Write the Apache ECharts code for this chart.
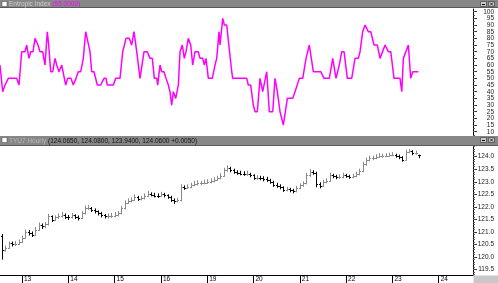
<!DOCTYPE html>
<html>
<head>
<meta charset="utf-8">
<script src="https://cdn.jsdelivr.net/npm/echarts@6/dist/echarts.min.js"></script>
<style>
html,body{margin:0;padding:0;background:#fff;}
#c{width:498px;height:283px;}
</style>
</head>
<body>
<div id="c"></div>
<script>
// ---- data ----
const dayLabels = ['13','14','15','16','19','20','21','22','23','24'];
const priceBarsPerDay = 14;          // price bars per session
const indicatorStepsPerDay = 9;      // time unit of indicatorPoints (1/9 session)
const firstBarIndex = -6;
const indicatorTicks = [10,15,20,25,30,35,40,45,50,55,60,65,70,75,80,85,90,95,100];
const priceTicks = [119.5,120.0,120.5,121.0,121.5,122.0,122.5,123.0,123.5,124.0];
const indicatorTitle = 'Entropic Index';
const indicatorLast = '(55.0000)';
const priceTitle = 'TYU7 Hourly';
const priceLast = '(124.0650, 124.0800, 123.9400, 124.0600 +0.0050)';

// indicator: [time in 1/9 session, value]
const indicatorPoints = [
[-4.28,60],[-3.75,40],[-3.30,45],[-2.66,50],[-1.03,50],[-0.58,45],[-0.06,70],[0.58,70],[0.91,75],[1.36,65],
[1.69,70],[2.14,70],[2.53,80],[3.11,75],[3.50,70],[4.02,70],[4.47,60],[4.92,85],[5.19,75],[5.58,55],
[5.97,55],[6.42,65],[6.75,60],[7.19,55],[7.72,60],[7.97,55],[8.50,45],[8.88,50],[9.53,50],[9.97,45],
[10.50,50],[10.94,55],[11.41,55],[11.92,65],[12.38,85],[12.69,85],[13.22,70],[13.55,55],[14.00,55],[14.64,45],
[15.30,45],[15.94,50],[16.33,50],[16.58,45],[17.75,45],[18.22,50],[19.05,50],[19.58,70],[20.22,80],[20.86,80],
[21.32,75],[21.77,85],[22.30,70],[22.94,50],[23.72,70],[24.36,70],[24.88,65],[25.33,65],[25.72,50],[26.19,50],
[26.38,45],[26.83,60],[27.16,55],[27.60,55],[28.00,50],[28.44,45],[28.77,40],[29.10,30],[29.41,40],[29.88,35],
[30.39,45],[30.72,70],[31.16,75],[31.55,65],[31.88,70],[32.33,80],[32.80,75],[33.18,60],[33.63,70],[34.27,70],
[34.60,65],[35.13,65],[35.44,60],[35.77,65],[36.22,50],[36.99,50],[37.52,60],[37.85,65],[38.30,85],[38.49,75],
[39.02,95],[39.33,90],[39.79,90],[40.77,55],[40.96,50],[43.68,50],[43.99,45],[44.46,45],[44.96,30],[45.30,25],
[45.74,25],[46.27,50],[46.79,40],[47.57,55],[48.08,25],[48.74,25],[49.18,50],[49.63,40],[50.16,25],[50.80,15],
[51.58,35],[52.62,35],[53.07,40],[53.91,50],[54.57,50],[55.21,65],[55.85,75],[56.12,75],[56.63,55],[58.07,55],
[58.71,50],[59.74,50],[60.40,65],[60.65,65],[61.04,50],[61.68,60],[62.15,70],[62.60,70],[63.24,50],[64.09,50],
[64.74,65],[65.38,65],[65.71,70],[66.23,85],[66.68,90],[67.01,90],[67.32,85],[67.79,85],[68.43,75],[69.07,75],
[69.60,65],[70.57,75],[70.90,75],[71.21,70],[71.68,70],[72.32,50],[73.48,50],[73.82,40],[74.13,65],[75.10,75],
[75.56,50],[75.95,55],[77.04,55]
];

// price bars: [open, high, low, close], first bar at index -6
const priceBars = [
[120.85,120.92,119.90,120.30],[120.30,120.46,120.22,120.38],[120.38,120.62,120.34,120.55],[120.55,120.62,120.42,120.51],
[120.51,120.64,120.44,120.54],[120.54,120.70,120.48,120.60],[120.60,120.86,120.56,120.78],[120.78,121.10,120.74,121.01],
[121.01,121.08,120.86,120.96],[120.96,121.02,120.80,120.90],[120.90,121.20,120.86,121.10],[121.10,121.38,121.04,121.29],
[121.29,121.34,121.12,121.22],[121.22,121.40,121.16,121.30],[121.30,121.72,121.26,121.62],[121.62,121.66,121.40,121.49],
[121.49,121.66,121.44,121.58],[121.58,121.74,121.52,121.64],[121.64,121.80,121.58,121.69],[121.69,121.74,121.52,121.60],
[121.60,121.68,121.48,121.58],[121.58,121.76,121.54,121.66],[121.66,121.70,121.52,121.60],[121.60,121.66,121.46,121.56],
[121.56,121.84,121.52,121.75],[121.75,122.05,121.70,121.95],[121.95,122.08,121.88,121.96],[121.96,122.00,121.80,121.88],
[121.88,121.94,121.74,121.82],[121.82,121.86,121.66,121.74],[121.74,121.80,121.58,121.67],[121.67,121.72,121.54,121.62],
[121.62,121.74,121.54,121.62],[121.62,121.76,121.56,121.64],[121.64,121.80,121.58,121.68],[121.68,121.84,121.62,121.74],
[121.74,122.04,121.70,121.95],[121.95,122.26,121.90,122.17],[122.17,122.34,122.12,122.24],[122.24,122.38,122.18,122.28],
[122.28,122.50,122.24,122.40],[122.40,122.44,122.24,122.31],[122.31,122.44,122.26,122.34],[122.34,122.54,122.30,122.45],
[122.45,122.64,122.40,122.53],[122.53,122.58,122.42,122.49],[122.49,122.56,122.38,122.45],[122.45,122.54,122.36,122.44],
[122.44,122.60,122.40,122.50],[122.50,122.56,122.38,122.46],[122.46,122.50,122.32,122.40],[122.40,122.44,122.20,122.28],
[122.28,122.34,122.12,122.23],[122.23,122.36,122.18,122.27],[122.27,122.90,122.22,122.80],[122.80,122.86,122.68,122.77],
[122.77,122.90,122.72,122.80],[122.80,122.96,122.74,122.86],[122.86,123.04,122.82,122.93],[122.93,123.06,122.86,122.95],
[122.95,123.04,122.86,122.95],[122.95,123.08,122.90,122.97],[122.97,123.10,122.92,123.00],[123.00,123.14,122.94,123.03],
[123.03,123.18,122.98,123.09],[123.09,123.24,123.04,123.15],[123.15,123.34,123.10,123.25],[123.25,123.56,123.20,123.46],
[123.46,123.66,123.40,123.55],[123.55,123.60,123.38,123.46],[123.46,123.52,123.32,123.40],[123.40,123.46,123.28,123.35],
[123.35,123.44,123.26,123.33],[123.33,123.42,123.24,123.32],[123.32,123.44,123.24,123.32],[123.32,123.36,123.18,123.26],
[123.26,123.30,123.08,123.15],[123.15,123.26,123.08,123.15],[123.15,123.24,123.06,123.14],[123.14,123.22,123.02,123.11],
[123.11,123.20,123.00,123.09],[123.09,123.12,122.92,123.00],[123.00,123.04,122.80,122.88],[122.88,122.96,122.76,122.84],
[122.84,122.90,122.70,122.78],[122.78,122.82,122.60,122.69],[122.69,122.80,122.62,122.70],[122.70,122.76,122.58,122.68],
[122.68,122.72,122.54,122.62],[122.62,122.84,122.58,122.76],[122.76,122.94,122.70,122.86],[122.86,123.02,122.80,122.94],
[122.94,123.36,122.90,123.26],[123.26,123.50,123.20,123.39],[123.39,123.46,123.28,123.35],[123.35,123.40,122.78,122.92],
[122.92,122.98,122.74,122.84],[122.84,123.08,122.80,123.00],[123.00,123.14,122.94,123.05],[123.05,123.36,123.00,123.27],
[123.27,123.32,123.14,123.22],[123.22,123.28,123.10,123.18],[123.18,123.30,123.12,123.18],[123.18,123.36,123.14,123.27],
[123.27,123.32,123.16,123.23],[123.23,123.28,123.12,123.20],[123.20,123.32,123.14,123.23],[123.23,123.40,123.18,123.31],
[123.31,123.52,123.26,123.43],[123.43,123.80,123.38,123.70],[123.70,123.96,123.64,123.88],[123.88,124.04,123.82,123.95],
[123.95,124.04,123.86,123.95],[123.95,124.10,123.90,124.00],[124.00,124.14,123.96,124.04],[124.04,124.12,123.96,124.04],
[124.04,124.14,123.98,124.04],[124.04,124.16,124.00,124.06],[124.06,124.18,124.02,124.07],[124.07,124.12,123.96,124.02],
[124.02,124.08,123.90,123.97],[123.97,124.02,123.80,123.88],[123.88,124.28,123.84,124.20],[124.20,124.30,124.14,124.21],
[124.21,124.26,124.06,124.13],[124.13,124.24,124.08,124.14],[124.065,124.08,123.94,124.06]
];

// ---- build ----
const FONT = 'Liberation Sans';
const PLOT_W = 473, DAY0_X = 22, DAY_W = 46.3;   // layout
const rangeFor = perDay => [-DAY0_X / DAY_W * perDay, (PLOT_W - DAY0_X) / DAY_W * perDay];
const indRange = rangeFor(indicatorStepsPerDay);
const priceRange = rangeFor(priceBarsPerDay);
const dayTickValues = dayLabels.map((d, k) => k * priceBarsPerDay);
const priceData = priceBars.map((b, k) => [k + firstBarIndex, b[0], b[1], b[2], b[3]]);
// indicator labels are split over two overlaid axes so no label gets culled for overlap
const indLabelsA = indicatorTicks.filter((v, k) => k % 2 === 0);
const indLabelsB = indicatorTicks.filter((v, k) => k % 2 === 1);

function tickList(lo, hi, step) {
  const out = [];
  for (let v = lo; v <= hi + 1e-9; v += step) out.push(Math.round(v * 1000) / 1000);
  return out;
}
const indMinor = tickList(7.5, 100, 2.5);
const priceMinor = tickList(119.3, 124.4, 0.1);

const chart = echarts.init(document.getElementById('c'), null, {renderer: 'canvas'});
const axisLabelStyle = {fontFamily: FONT, fontSize: 6.5, color: '#222',
  showMinLabel: true, showMaxLabel: true, hideOverlap: false, align: 'right', margin: 21};

function renderOHLC(params, api) {
  const x = api.value(0);
  const o = api.value(1), h = api.value(2), l = api.value(3), c = api.value(4);
  const pH = api.coord([x, h]), pL = api.coord([x, l]);
  const pO = api.coord([x, o]), pC = api.coord([x, c]);
  const px = Math.round(pH[0]) + 0.5;
  const color = c >= o ? '#8a8a8a' : '#000000';
  const w = 1.5;
  const yo = Math.round(pO[1]) + 0.5, yc = Math.round(pC[1]) + 0.5;
  return {
    type: 'group',
    children: [
      {type: 'line', shape: {x1: px, y1: pH[1], x2: px, y2: pL[1]}, style: {stroke: color, lineWidth: 1}},
      {type: 'line', shape: {x1: px - w, y1: yo, x2: px, y2: yo}, style: {stroke: color, lineWidth: 1}},
      {type: 'line', shape: {x1: px, y1: yc, x2: px + w, y2: yc}, style: {stroke: color, lineWidth: 1}}
    ]
  };
}

function titleBar(y, h, richText, rich) {
  return [
    {type: 'rect', z: 100, shape: {x: 0, y: y, width: 498, height: h}, style: {fill: '#878787'}},
    {type: 'rect', z: 100, shape: {x: 0, y: y + h - 1, width: 498, height: 1}, style: {fill: '#5a5a5a'}},
    {type: 'rect', z: 101, shape: {x: 2, y: y + 1.5, width: 5, height: 5}, style: {fill: '#ffffff', stroke: '#444', lineWidth: 0.5}},
    {type: 'rect', z: 101, shape: {x: 480.5, y: y + 1.5, width: 6, height: 5}, style: {fill: '#c9c9c9', stroke: '#333', lineWidth: 0.6}},
    {type: 'rect', z: 101, shape: {x: 488.5, y: y + 1.5, width: 6, height: 5}, style: {fill: '#c9c9c9', stroke: '#333', lineWidth: 0.6}},
    {type: 'line', z: 102, shape: {x1: 482, y1: y + 4.5, x2: 485, y2: y + 4.5}, style: {stroke: '#000', lineWidth: 1}},
    {type: 'line', z: 102, shape: {x1: 490, y1: y + 2.5, x2: 493, y2: y + 5.5}, style: {stroke: '#000', lineWidth: 0.8}},
    {type: 'line', z: 102, shape: {x1: 493, y1: y + 2.5, x2: 490, y2: y + 5.5}, style: {stroke: '#000', lineWidth: 0.8}},
    {type: 'text', z: 102, x: 9, y: y + h / 2, style: {text: richText, rich: rich, verticalAlign: 'middle', fontFamily: FONT, fontSize: 6.5}}
  ];
}

const indMin = 6.78, indMax = 102.03, priceMin = 119.288, priceMax = 124.426;
const gridRects = [
  {left: 0, top: 9, width: PLOT_W, height: 127},
  {left: 0, top: 146, width: PLOT_W, height: 129}
];
const mkGrid = r => Object.assign({outerBoundsMode: 'none', containLabel: false}, r);

// overlay axis (same rectangle) carrying the minor-tick ruler and optional extra labels
function rulerAxis(gridIndex, min, max, ticks, labels) {
  return {type: 'value', gridIndex: gridIndex, position: 'right', min: min, max: max,
    axisLine: {show: false, onZero: false},
    axisTick: {show: true, length: 2, customValues: ticks, lineStyle: {color: '#555'}},
    axisLabel: labels ? Object.assign({show: true, customValues: labels}, axisLabelStyle) : {show: false},
    splitLine: {show: false}};
}

const option = {
  animation: false,
  backgroundColor: '#ffffff',
  grid: [mkGrid(gridRects[0]), mkGrid(gridRects[1]), mkGrid(gridRects[0]), mkGrid(gridRects[1])],
  xAxis: [
    {type: 'value', gridIndex: 0, min: indRange[0], max: indRange[1], show: false, axisLine: {onZero: false}},
    {type: 'value', gridIndex: 1, min: priceRange[0], max: priceRange[1], position: 'bottom',
      axisLine: {show: true, onZero: false, lineStyle: {color: '#000', width: 1}},
      axisTick: {show: true, length: 8, customValues: dayTickValues, lineStyle: {color: '#000'}},
      axisLabel: {show: true, customValues: dayTickValues, align: 'left', margin: 1, padding: [0, 0, 0, 2],
        hideOverlap: false, showMinLabel: true, showMaxLabel: true,
        formatter: v => dayLabels[Math.round(v / priceBarsPerDay)] || '',
        fontFamily: FONT, fontSize: 6.5, color: '#000'},
      splitLine: {show: false}},
    {type: 'value', gridIndex: 2, min: 1, max: 2, show: false, axisLine: {onZero: false}},
    {type: 'value', gridIndex: 3, min: 1, max: 2, show: false, axisLine: {onZero: false}}
  ],
  yAxis: [
    {type: 'value', gridIndex: 0, position: 'right', min: indMin, max: indMax,
      axisLine: {show: true, onZero: false, lineStyle: {color: '#000'}},
      axisTick: {show: true, length: 4, customValues: indicatorTicks, lineStyle: {color: '#333'}},
      axisLabel: Object.assign({show: true, customValues: indLabelsA}, axisLabelStyle),
      splitLine: {show: false}},
    {type: 'value', gridIndex: 1, position: 'right', min: priceMin, max: priceMax,
      axisLine: {show: true, onZero: false, lineStyle: {color: '#000'}},
      axisTick: {show: true, length: 4, customValues: priceTicks, lineStyle: {color: '#333'}},
      axisLabel: Object.assign({show: true, customValues: priceTicks, formatter: v => v.toFixed(1)}, axisLabelStyle),
      splitLine: {show: false}},
    rulerAxis(2, indMin, indMax, indMinor, indLabelsB),
    rulerAxis(3, priceMin, priceMax, priceMinor, null)
  ],
  series: [
    {type: 'line', xAxisIndex: 0, yAxisIndex: 0, data: indicatorPoints, showSymbol: false,
      lineStyle: {color: '#ff00ff', width: 1.5}, silent: true},
    {type: 'custom', xAxisIndex: 1, yAxisIndex: 1, data: priceData, renderItem: renderOHLC,
      encode: {x: 0, y: [1, 2, 3, 4]}, silent: true}
  ],
  graphic: [].concat(
    titleBar(0, 8, '{a|' + indicatorTitle + ' }{b|' + indicatorLast + '}', {
      a: {fill: '#cfcfcf', fontFamily: FONT, fontSize: 6.5},
      b: {fill: '#ff00ff', fontFamily: FONT, fontSize: 6.5}
    }),
    titleBar(136, 10, '{a|' + priceTitle + ' }{b|' + priceLast + '}', {
      a: {fill: '#b5b5b5', fontFamily: FONT, fontSize: 6.5},
      b: {fill: '#111111', fontFamily: FONT, fontSize: 6.5}
    }),
    [{type: 'rect', z: 100, shape: {x: 473.5, y: 275.5, width: 24.5, height: 8}, style: {fill: '#c8c8c8'}}]
  )
};
chart.setOption(option);
</script>
</body>
</html>
